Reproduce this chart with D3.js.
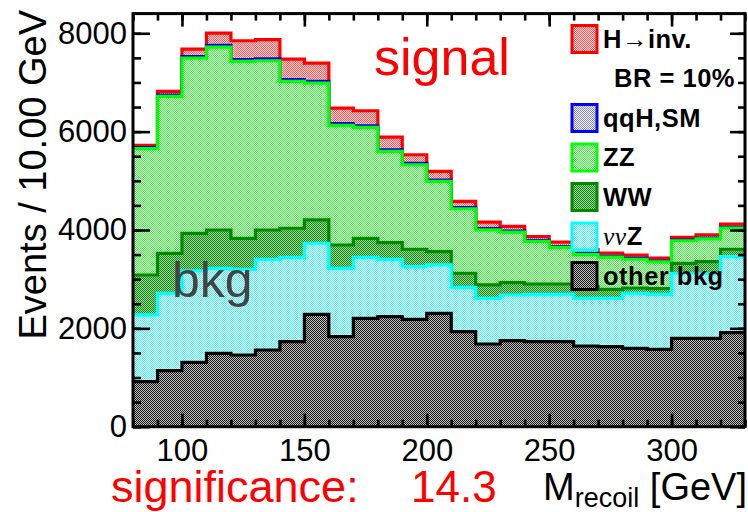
<!DOCTYPE html>
<html>
<head>
<meta charset="utf-8">
<script src="https://cdn.jsdelivr.net/npm/d3@7"></script>
<style>
  body { margin: 0; background: #fff; }
  text { font-family: "Liberation Sans", Arial, Helvetica, sans-serif; }
</style>
</head>
<body>
<div id="chart"></div>
<script>
const width = 748;
const height = 512;

// plot frame in pixels
const frame = { left: 133, right: 745, top: 13.6, bottom: 426.7 };

// recoil mass bins, 10 GeV wide, 80 -> 330 GeV
const binLow = [80, 90, 100, 110, 120, 130, 140, 150, 160, 170, 180, 190, 200,
                210, 220, 230, 240, 250, 260, 270, 280, 290, 300, 310, 320];
const binWidth = 10;

// events per bin, one array per process
const otherBkg = [915, 1139, 1310, 1493, 1458, 1560, 1729, 2286, 1830, 2204, 2237, 2184, 2306,
                  1932, 1682, 1749, 1729, 1729, 1641, 1627, 1594, 1574, 1798, 1798, 1912];
const nuNuZ    = [1357, 1574, 1860, 1727, 1742, 1844, 1716, 1444, 1391, 1241, 1167, 1070, 983,
                  903, 929, 929, 963, 963, 970, 984, 1119, 1118, 1322, 1322, 1545];
const wwBkg    = [813, 813, 763, 780, 631, 596, 590, 474, 474, 386, 338, 354, 270,
                  285, 271, 251, 210, 210, 239, 183, 107, 118, 203, 236, 151];
const zzBkg    = [2569, 3190, 3561, 3718, 3596, 3441, 2985, 2782, 2431, 2254, 1855, 1719, 1428,
                  1312, 1122, 1027, 865, 743, 650, 656, 585, 542, 458, 465, 429];
const qqHsm    = [20, 25, 30, 35, 40, 40, 40, 38, 35, 32, 30, 28, 26,
                  24, 22, 20, 20, 18, 18, 16, 16, 15, 15, 15, 15];
const hInv     = [49, 76, 154, 250, 381, 388, 414, 369, 317, 308, 261, 175, 177,
                  124, 133, 96, 81, 89, 82, 63, 69, 60, 52, 67, 66];

const xTicks = [100, 150, 200, 250, 300];
const yTicks = [0, 2000, 4000, 6000, 8000];

// bottom -> top of the stack; fills are a dot pattern like ROOT's 3001 style
const processes = [
  { key: "other", values: otherBkg, line: "#000000", dotBg: "#c4c4c4", dot: "#141414" },
  { key: "nunuZ", values: nuNuZ,    line: "#00ffff", dotBg: "#e8ffff", dot: "#50f2f2" },
  { key: "WW",    values: wwBkg,    line: "#008a00", dotBg: "#92d892", dot: "#1c861c" },
  { key: "ZZ",    values: zzBkg,    line: "#00ff00", dotBg: "#d2ffd2", dot: "#52e252" },
  { key: "qqH",   values: qqHsm,    line: "#0000ff", dotBg: "#ffffff", dot: "#8080ff" },
  { key: "Hinv",  values: hInv,     line: "#ff0000", dotBg: "#ffd4d4", dot: "#ff5c5c" }
];

const table = binLow.map((lo, i) => {
  const row = { lo: lo };
  processes.forEach(p => { row[p.key] = p.values[i]; });
  return row;
});
const stack = d3.stack().keys(processes.map(p => p.key))(table);

const x = d3.scaleLinear().domain([80, 330]).range([frame.left, frame.right]);
const y = d3.scaleLinear().domain([0, 8400]).range([frame.bottom, frame.top]);

const svg = d3.select("#chart").append("svg")
  .attr("width", width)
  .attr("height", height);

const defs = svg.append("defs");
processes.forEach(p => {
  const pat = defs.append("pattern")
    .attr("id", "pat-" + p.key)
    .attr("patternUnits", "userSpaceOnUse")
    .attr("width", 2).attr("height", 2);
  pat.append("rect").attr("width", 2).attr("height", 2).attr("fill", p.dotBg);
  pat.append("rect").attr("x", 0).attr("y", 0).attr("width", 1).attr("height", 1).attr("fill", p.dot);
  pat.append("rect").attr("x", 1).attr("y", 1).attr("width", 1).attr("height", 1).attr("fill", p.dot);
});
defs.append("clipPath").attr("id", "plot-clip")
  .append("rect")
  .attr("x", frame.left).attr("y", frame.top)
  .attr("width", frame.right - frame.left).attr("height", frame.bottom - frame.top);

// cumulative top of each layer, with closing point at the last bin edge
function stepPoints(layer) {
  const pts = layer.map((d, i) => ({ x: binLow[i], v: d[1] }));
  pts.push({ x: binLow[binLow.length - 1] + binWidth, v: layer[layer.length - 1][1] });
  return pts;
}

const area = d3.area()
  .x(d => x(d.x))
  .y0(y(0))
  .y1(d => y(d.v))
  .curve(d3.curveStepAfter);

const line = d3.line()
  .x(d => x(d.x))
  .y(d => y(d.v))
  .curve(d3.curveStepAfter);

const plot = svg.append("g").attr("clip-path", "url(#plot-clip)");

// ROOT style: draw the full stack first, then each lower sum on top
for (let k = stack.length - 1; k >= 0; k--) {
  const p = processes[k];
  const pts = stepPoints(stack[k]);
  plot.append("path")
    .datum(pts)
    .attr("fill", "url(#pat-" + p.key + ")")
    .attr("d", area);
  plot.append("path")
    .datum(pts)
    .attr("fill", "none")
    .attr("stroke", p.line)
    .attr("stroke-width", 3.2)
    .attr("d", line);
}

// axes (ticks point inward)
const minorX = d3.range(80, 331, 10);
const minorY = d3.range(0, 8401, 500);

function styleAxis(g) {
  g.select(".domain").remove();
  g.selectAll("line").attr("stroke", "#000").attr("stroke-width", 2.6);
  g.selectAll("text").attr("font-size", 31).attr("fill", "#000")
    .style("font-family", "'Liberation Sans', Arial, sans-serif");
}

svg.append("g")
  .attr("transform", "translate(0," + frame.bottom + ")")
  .call(d3.axisBottom(x).tickValues(minorX).tickSize(-7).tickFormat(""))
  .call(styleAxis);
svg.append("g")
  .attr("transform", "translate(0," + frame.bottom + ")")
  .call(d3.axisBottom(x).tickValues(xTicks).tickSize(-13).tickPadding(12).tickFormat(d3.format("d")))
  .call(styleAxis);
svg.append("g")
  .attr("transform", "translate(0," + frame.top + ")")
  .call(d3.axisTop(x).tickValues(minorX).tickSize(-7).tickFormat(""))
  .call(styleAxis);
svg.append("g")
  .attr("transform", "translate(0," + frame.top + ")")
  .call(d3.axisTop(x).tickValues(xTicks).tickSize(-13).tickFormat(""))
  .call(styleAxis);

svg.append("g")
  .attr("transform", "translate(" + frame.left + ",0)")
  .call(d3.axisLeft(y).tickValues(minorY).tickSize(-8).tickFormat(""))
  .call(styleAxis);
svg.append("g")
  .attr("transform", "translate(" + frame.left + ",0)")
  .call(d3.axisLeft(y).tickValues(yTicks).tickSize(-17).tickPadding(6).tickFormat(d3.format("d")))
  .call(styleAxis);
svg.append("g")
  .attr("transform", "translate(" + frame.right + ",0)")
  .call(d3.axisRight(y).tickValues(minorY).tickSize(-7).tickFormat(""))
  .call(styleAxis);
svg.append("g")
  .attr("transform", "translate(" + frame.right + ",0)")
  .call(d3.axisRight(y).tickValues(yTicks).tickSize(-15).tickFormat(""))
  .call(styleAxis);

svg.append("rect")
  .attr("x", frame.left).attr("y", frame.top)
  .attr("width", frame.right - frame.left).attr("height", frame.bottom - frame.top)
  .attr("fill", "none").attr("stroke", "#000").attr("stroke-width", 3);

// axis titles
svg.append("text")
  .attr("transform", "translate(46,10) rotate(-90)")
  .attr("text-anchor", "end")
  .attr("font-size", 38)
  .text("Events / 10.00 GeV");

const xTitle = svg.append("text")
  .attr("x", 747).attr("y", 500)
  .attr("text-anchor", "end")
  .attr("font-size", 38);
xTitle.append("tspan").text("M");
xTitle.append("tspan").attr("font-size", 27).attr("dy", 7).text("recoil");
xTitle.append("tspan").attr("dy", -7).text(" [GeV]");

// annotations
svg.append("text")
  .attr("x", 374).attr("y", 75)
  .attr("font-size", 52).attr("fill", "#ff0000")
  .text("signal");
svg.append("text")
  .attr("x", 172).attr("y", 297)
  .attr("font-size", 50).attr("fill", "#444444")
  .text("bkg");
svg.append("text")
  .attr("x", 111).attr("y", 502)
  .attr("font-size", 45).attr("fill", "#ff0000")
  .text("significance:");
svg.append("text")
  .attr("x", 411).attr("y", 502)
  .attr("font-size", 44).attr("fill", "#ff0000")
  .text("14.3");

// legend
const legendRows = [
  { key: "Hinv",  row: 0, label: "H\u2192inv." },
  { key: "qqH",   row: 2, label: "qqH,SM" },
  { key: "ZZ",    row: 3, label: "ZZ" },
  { key: "WW",    row: 4, label: "WW" },
  { key: "nunuZ", row: 5, label: "Z" },
  { key: "other", row: 6, label: "other bkg" }
];
const legend = svg.append("g");
legendRows.forEach(r => {
  const p = processes.find(q => q.key === r.key);
  const cy = 39 + r.row * 39.5;
  legend.append("rect")
    .attr("x", 572).attr("y", cy - 13.5)
    .attr("width", 25).attr("height", 27)
    .attr("fill", "url(#pat-" + p.key + ")")
    .attr("stroke", p.line).attr("stroke-width", 3);
  const t = legend.append("text")
    .attr("x", 603).attr("y", cy + 8.5)
    .attr("font-size", 25.5).attr("font-weight", "bold")
    .attr("letter-spacing", 0.5);
  if (r.key === "nunuZ") {
    t.append("tspan")
      .style("font-family", "'Liberation Serif', 'Times New Roman', serif")
      .attr("font-weight", "normal").attr("font-style", "italic")
      .text("\u03bd\u03bd");
  }
  t.append("tspan").text(r.label);
});
legend.append("text")
  .attr("x", 735).attr("y", 87)
  .attr("text-anchor", "end")
  .attr("font-size", 25.5).attr("font-weight", "bold")
  .attr("letter-spacing", 0.5)
  .text("BR = 10%");
</script>
</body>
</html>
